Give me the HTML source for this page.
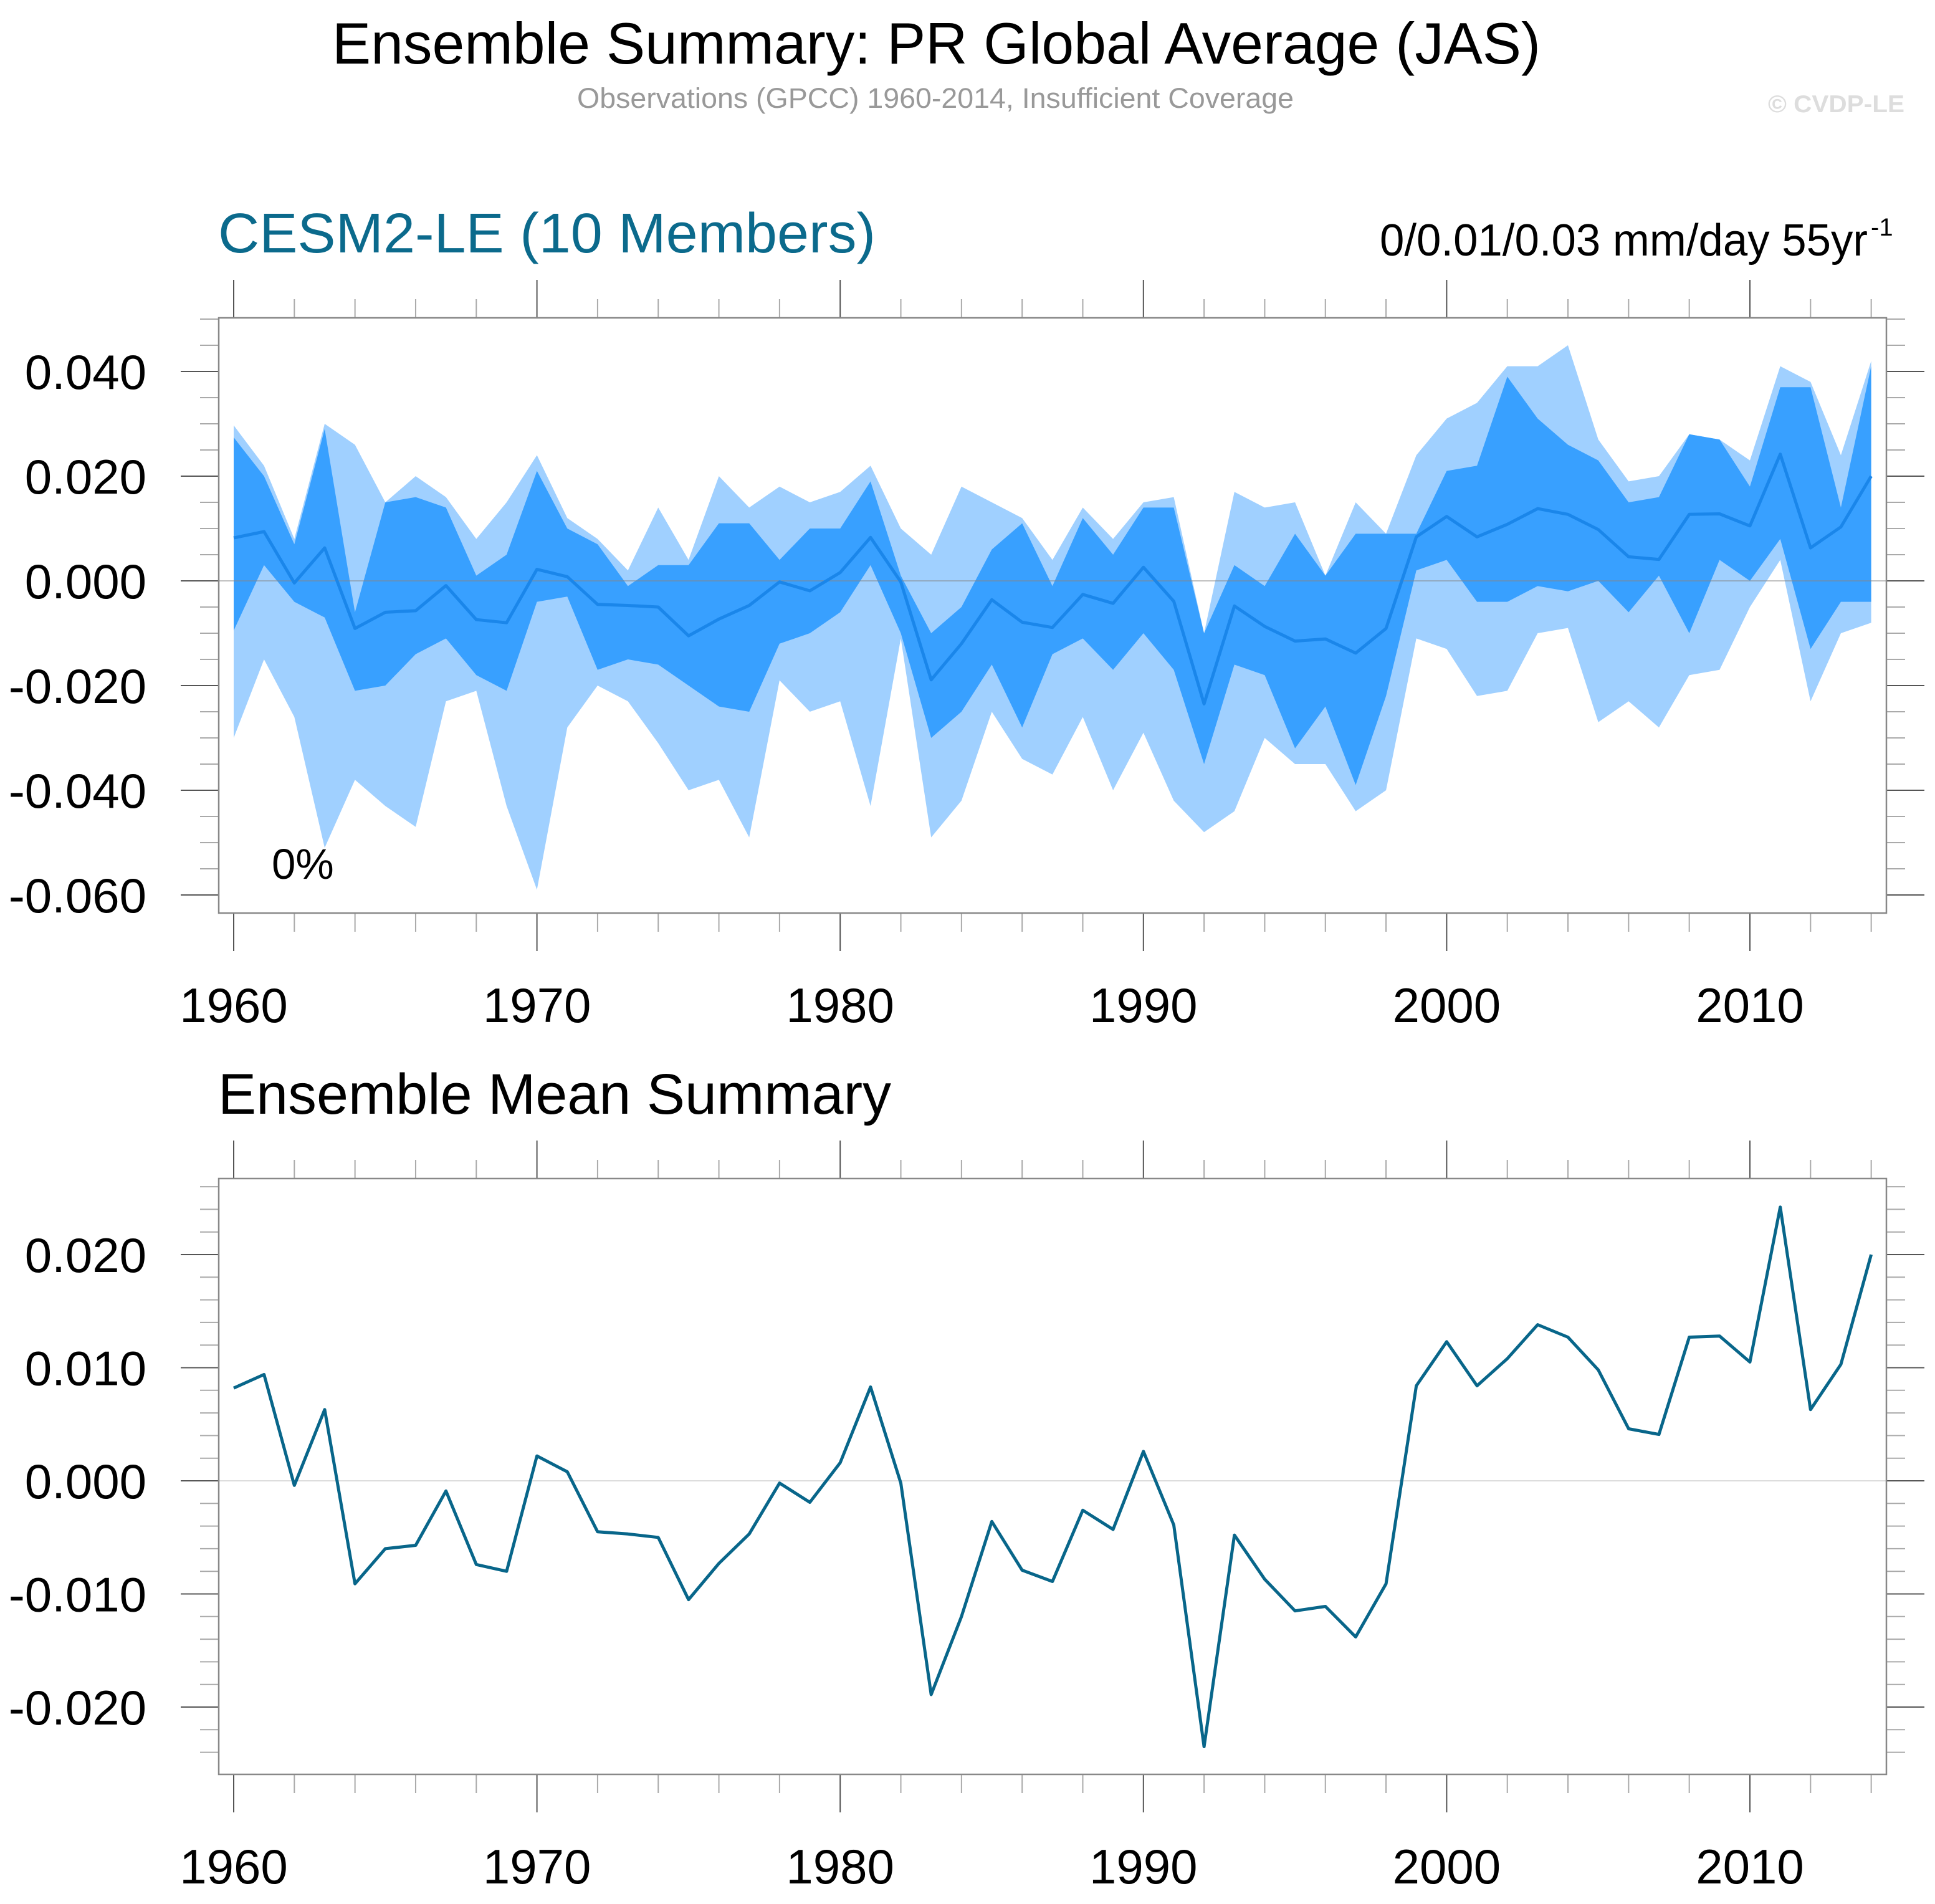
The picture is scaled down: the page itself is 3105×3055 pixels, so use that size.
<!DOCTYPE html>
<html><head><meta charset="utf-8"><style>
html,body{margin:0;padding:0;background:#fff;}
svg{display:block;font-family:"Liberation Sans",Arial,sans-serif;}
</style></head><body>
<svg id="chart" width="3105" height="3055" viewBox="0 0 3105 3055" xmlns="http://www.w3.org/2000/svg">
<text x="533" y="102" font-size="94" fill="#000" textLength="1939" lengthAdjust="spacingAndGlyphs">Ensemble Summary: PR Global Average (JAS)</text>
<text x="926" y="173" font-size="45" fill="#999" textLength="1150" lengthAdjust="spacingAndGlyphs">Observations (GPCC) 1960-2014, Insufficient Coverage</text>
<text x="2837" y="180" font-size="39" font-weight="bold" fill="#ddd" textLength="219" lengthAdjust="spacingAndGlyphs">© CVDP-LE</text>
<text x="350" y="405" font-size="90" fill="#0b6a8c" textLength="1055" lengthAdjust="spacingAndGlyphs">CESM2-LE (10 Members)</text>
<text x="2214" y="410" font-size="72" fill="#000" textLength="783" lengthAdjust="spacingAndGlyphs">0/0.01/0.03 mm/day 55yr</text>
<text x="3002" y="378" font-size="40" fill="#000">-1</text>
<text x="350" y="1787" font-size="92" fill="#000" textLength="1080" lengthAdjust="spacingAndGlyphs">Ensemble Mean Summary</text>
<g id="top"></g>
<g id="bot"></g>
</svg>
<script>
const years = [];
for (let y = 1960; y <= 2014; y++) years.push(y);
const meanVals = [0.0082,0.0094,-0.0004,0.0063,-0.0091,-0.0060,-0.0057,-0.0009,-0.0074,-0.0080,
0.0022,0.0008,-0.0045,-0.0047,-0.0050,-0.0105,-0.0073,-0.0047,-0.0002,-0.0019,
0.0016,0.0083,-0.0002,-0.0189,-0.0120,-0.0036,-0.0079,-0.0089,-0.0026,-0.0043,
0.0026,-0.0039,-0.0235,-0.0048,-0.0087,-0.0115,-0.0111,-0.0138,-0.0091,0.0084,
0.0123,0.0084,0.0108,0.0138,0.0127,0.0098,0.0046,0.0041,0.0127,0.0128,
0.0105,0.0242,0.0063,0.0103,0.0200];
const maxVals = [0.0297,0.022,0.008,0.030,0.026,0.015,0.020,0.016,0.008,0.015,
0.024,0.012,0.008,0.002,0.014,0.004,0.020,0.014,0.018,0.015,
0.017,0.022,0.010,0.005,0.018,0.015,0.012,0.004,0.014,0.008,
0.015,0.016,-0.010,0.017,0.014,0.015,0.001,0.015,0.009,0.024,
0.031,0.034,0.041,0.041,0.045,0.027,0.019,0.020,0.028,0.027,
0.023,0.041,0.038,0.024,0.042];
const upperVals = [0.0274,0.020,0.007,0.029,-0.006,0.015,0.016,0.014,0.001,0.005,
0.021,0.010,0.007,-0.001,0.003,0.003,0.011,0.011,0.004,0.010,
0.010,0.019,0.001,-0.010,-0.005,0.006,0.011,-0.001,0.012,0.005,
0.014,0.014,-0.010,0.003,-0.001,0.009,0.001,0.009,0.009,0.009,
0.021,0.022,0.039,0.031,0.026,0.023,0.015,0.016,0.028,0.027,
0.018,0.037,0.037,0.014,0.041];
const lowerVals = [-0.0095,0.003,-0.004,-0.007,-0.021,-0.020,-0.014,-0.011,-0.018,-0.021,
-0.004,-0.003,-0.017,-0.015,-0.016,-0.020,-0.024,-0.025,-0.012,-0.010,
-0.006,0.003,-0.010,-0.030,-0.025,-0.016,-0.028,-0.014,-0.011,-0.017,
-0.010,-0.017,-0.035,-0.016,-0.018,-0.032,-0.024,-0.039,-0.022,0.002,
0.004,-0.004,-0.004,-0.001,-0.002,0.000,-0.006,0.001,-0.010,0.004,
0.000,0.008,-0.013,-0.004,-0.004];
const minVals = [-0.030,-0.015,-0.026,-0.051,-0.038,-0.043,-0.047,-0.023,-0.021,-0.043,
-0.059,-0.028,-0.020,-0.023,-0.031,-0.040,-0.038,-0.049,-0.019,-0.025,
-0.023,-0.043,-0.011,-0.049,-0.042,-0.025,-0.034,-0.037,-0.026,-0.040,
-0.029,-0.042,-0.048,-0.044,-0.030,-0.035,-0.035,-0.044,-0.040,-0.011,
-0.013,-0.022,-0.021,-0.010,-0.009,-0.027,-0.023,-0.028,-0.018,-0.017,
-0.005,0.004,-0.023,-0.010,-0.008];
const topTickLabels = ["-0.060","-0.040","-0.020","0.000","0.020","0.040"];
const botTickLabels = ["-0.020","-0.010","0.000","0.010","0.020"];
const yearLabels = ["1960","1970","1980","1990","2000","2010"];

const NS = "http://www.w3.org/2000/svg";
const X0 = 351, X1 = 3027;
const xs = yr => 375 + (yr - 1960) * 48.66;
const yTop = v => 932 - v * 8400;
const yBot = v => 2376 - v * 18150;
function mk(parent, tag, attrs) {
  const e = document.createElementNS(NS, tag);
  for (const k in attrs) e.setAttribute(k, attrs[k]);
  parent.appendChild(e);
  return e;
}
function axes(g, top, bot, ys, vmin, vmax, vstep, minorStep, labels, prefix) {
  const nMin = Math.ceil((vmin) / minorStep - 1e-6), nMax = Math.floor(vmax / minorStep + 1e-6);
  for (let i = nMin; i <= nMax; i++) {
    const v = i * minorStep, y = ys(v);
    if (y < top - 1 || y > bot + 1) continue;
    const major = Math.abs(v / vstep - Math.round(v / vstep)) < 1e-6;
    const len = major ? 61 : 30, col = major ? "#555" : "#aaa";
    const l1 = mk(g, "line", {x1: X0 - len, x2: X0, y1: y, y2: y, stroke: col, "stroke-width": 2});
    
    
    const l2 = mk(g, "line", {x1: X1, x2: X1 + len, y1: y, y2: y, stroke: col, "stroke-width": 2});
    
    
  }
  labels.forEach(s => {
    const t = mk(g, "text", {x: 235, y: ys(parseFloat(s)) + 28, "font-size": 78, "text-anchor": "end", fill: "#000"});
    t.textContent = s;
    
    
  });
  for (let yr = 1960; yr <= 2014; yr += 2) {
    const x = xs(yr), major = yr % 10 === 0;
    const len = major ? 61 : 30, col = major ? "#555" : "#aaa";
    const a = mk(g, "line", {x1: x, x2: x, y1: top - len, y2: top, stroke: col, "stroke-width": 2});
    
    
    const b = mk(g, "line", {x1: x, x2: x, y1: bot, y2: bot + len, stroke: col, "stroke-width": 2});
    
    
  }
  yearLabels.forEach(s => {
    const t = mk(g, "text", {x: xs(+s), y: bot + 175, "font-size": 78, "text-anchor": "middle", fill: "#000"});
    t.textContent = s;
    
    
  });
  const f = mk(g, "rect", {x: X0, y: top, width: X1 - X0, height: bot - top, fill: "none", stroke: "#888", "stroke-width": 2.5});
  
  
}
function band(g, up, lo, ys, color, name) {
  let d = "";
  years.forEach((yr, i) => { d += (i ? "L" : "M") + xs(yr).toFixed(1) + "," + ys(up[i]).toFixed(1); });
  for (let i = years.length - 1; i >= 0; i--) d += "L" + xs(years[i]).toFixed(1) + "," + ys(lo[i]).toFixed(1);
  const p = mk(g, "path", {d: d + "Z", fill: color, stroke: "none"});
  
  
}
function line(g, vals, ys, color, w, name) {
  const pts = years.map((yr, i) => xs(yr).toFixed(1) + "," + ys(vals[i]).toFixed(1)).join(" ");
  const p = mk(g, "polyline", {points: pts, fill: "none", stroke: color, "stroke-width": w, "stroke-linejoin": "round"});
  
  
}
const gt = document.getElementById("top");
band(gt, maxVals, minVals, yTop, "#a0d0ff", "min-max-band");
band(gt, upperVals, lowerVals, yTop, "#38a0ff", "inner-spread-band");
const z1 = mk(gt, "line", {x1: X0, x2: X1, y1: yTop(0), y2: yTop(0), stroke: "#888", "stroke-width": 1.5, "stroke-opacity": 0.7});


line(gt, meanVals, yTop, "#1a86ea", 5, "ensemble-mean-line");
const pct = mk(gt, "text", {x: 436, y: 1410, "font-size": 69, fill: "#000"});
pct.textContent = "0%";


axes(gt, 510, 1465, yTop, -0.0669, 0.0502, 0.02, 0.005, topTickLabels, "top");
const gb = document.getElementById("bot");
const z2 = mk(gb, "line", {x1: X0, x2: X1, y1: yBot(0), y2: yBot(0), stroke: "#ddd", "stroke-width": 2});


line(gb, meanVals, yBot, "#08668a", 5, "mean-line");
axes(gb, 1891, 2847, yBot, -0.0259, 0.0267, 0.01, 0.002, botTickLabels, "bottom");
</script>
</body></html>
